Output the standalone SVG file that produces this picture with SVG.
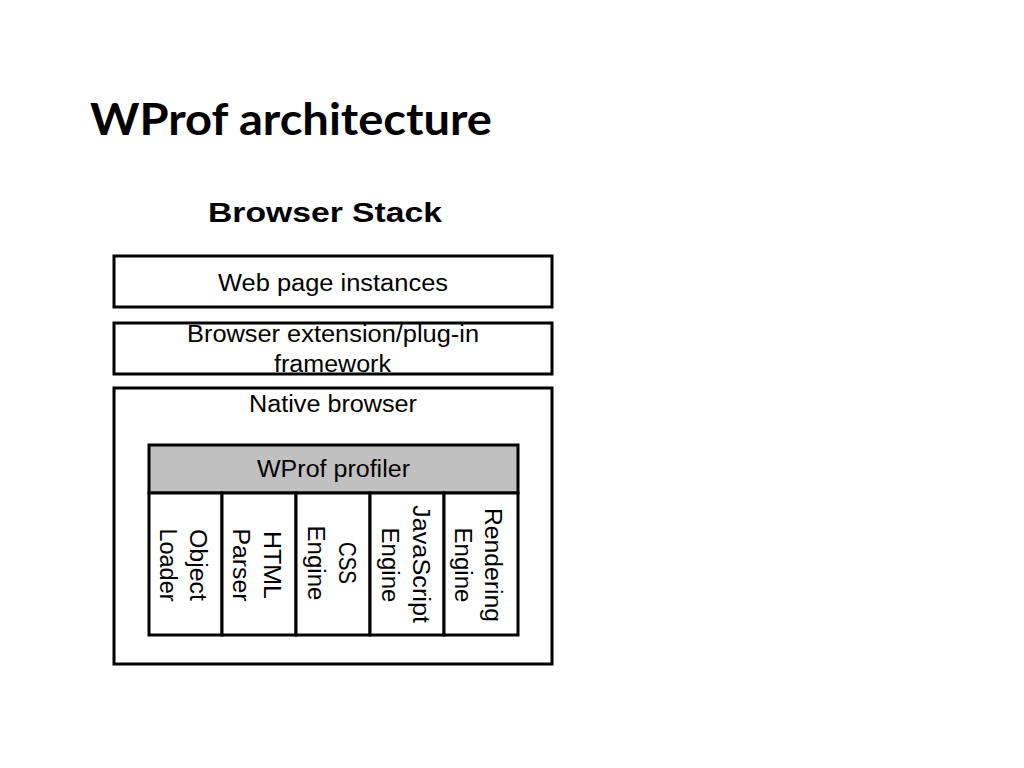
<svg xmlns="http://www.w3.org/2000/svg" width="1024" height="768" viewBox="0 0 1024 768">
<style>
.box{fill:#ffffff;stroke:#000000;stroke-width:3}
.prof{fill:#c0c0c0;stroke:#000000;stroke-width:3}
.col{fill:#ffffff;stroke:#000000;stroke-width:3}
.t{font-family:"Liberation Sans",Arial,sans-serif;font-size:23px;fill:#000000}
.rt{font-family:"Liberation Sans",Arial,sans-serif;font-size:23px;fill:#000000;text-anchor:middle}
.title{font-family:Lato,"Open Sans",sans-serif;font-weight:bold;font-size:43px;fill:#000000}
.sub{font-family:"Liberation Sans",Arial,sans-serif;font-weight:bold;font-size:28px;fill:#000000}
</style>
<rect width="1024" height="768" fill="#ffffff"/>
<g id="title">
<text class="title" x="90" y="135" textLength="402" lengthAdjust="spacingAndGlyphs">WProf architecture</text>
</g>
<g id="subtitle">
<text class="sub" x="208" y="222" textLength="234" lengthAdjust="spacingAndGlyphs">Browser Stack</text>
</g>
<g id="web-page-instances">
<rect class="box" x="114" y="256" width="438" height="51"/>
<text class="t" x="218" y="291" textLength="230" lengthAdjust="spacingAndGlyphs">Web page instances</text>
</g>
<g id="browser-extension">
<rect class="box" x="114" y="323" width="438" height="51"/>
<text class="t" x="187" y="342" textLength="292" lengthAdjust="spacingAndGlyphs">Browser extension/plug-in</text>
<text class="t" x="274" y="372" textLength="117" lengthAdjust="spacingAndGlyphs">framework</text>
</g>
<g id="native-browser">
<rect class="box" x="114" y="388" width="438" height="276"/>
<text class="t" x="249" y="412" textLength="168" lengthAdjust="spacingAndGlyphs">Native browser</text>
</g>
<g id="wprof-profiler">
<rect class="prof" x="149" y="445" width="369" height="48"/>
<text class="t" x="257" y="477" textLength="153" lengthAdjust="spacingAndGlyphs">WProf profiler</text>
</g>
<g id="object-loader">
<rect class="col" x="149" y="493" width="73" height="142"/>
<text class="rt" transform="translate(176,565) rotate(90)"><tspan x="0" y="-14" textLength="72" lengthAdjust="spacingAndGlyphs">Object</tspan><tspan x="0" y="16" textLength="73" lengthAdjust="spacingAndGlyphs">Loader</tspan></text>
</g>
<g id="html-parser">
<rect class="col" x="222" y="493" width="74" height="142"/>
<text class="rt" transform="translate(249,565) rotate(90)"><tspan x="0" y="-15" textLength="68" lengthAdjust="spacingAndGlyphs">HTML</tspan><tspan x="0" y="16" textLength="73" lengthAdjust="spacingAndGlyphs">Parser</tspan></text>
</g>
<g id="css-engine">
<rect class="col" x="296" y="493" width="74" height="142"/>
<text class="rt" transform="translate(323,563) rotate(90)"><tspan x="0" y="-16" textLength="42" lengthAdjust="spacingAndGlyphs">CSS</tspan><tspan x="0" y="15" textLength="75" lengthAdjust="spacingAndGlyphs">Engine</tspan></text>
</g>
<g id="javascript-engine">
<rect class="col" x="370" y="493" width="74" height="142"/>
<text class="rt" transform="translate(397,564) rotate(90)"><tspan x="0" y="-16" textLength="118" lengthAdjust="spacingAndGlyphs">JavaScript</tspan><tspan x="0" y="15" dx="1" textLength="75" lengthAdjust="spacingAndGlyphs">Engine</tspan></text>
</g>
<g id="rendering-engine">
<rect class="col" x="444" y="493" width="74" height="142"/>
<text class="rt" transform="translate(471,565) rotate(90)"><tspan x="0" y="-14" textLength="114" lengthAdjust="spacingAndGlyphs">Rendering</tspan><tspan x="0" y="16" textLength="75" lengthAdjust="spacingAndGlyphs">Engine</tspan></text>
</g>
</svg>
